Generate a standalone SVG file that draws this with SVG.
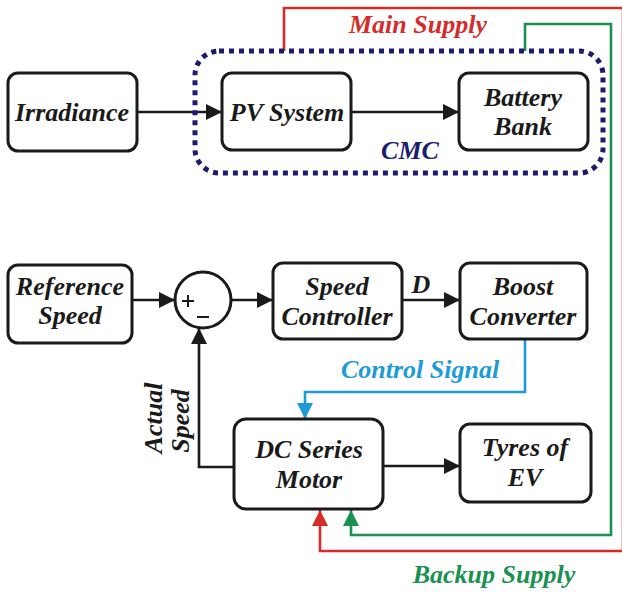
<svg xmlns="http://www.w3.org/2000/svg" width="622" height="592" viewBox="0 0 622 592">
<defs>
<marker id="ak" markerUnits="userSpaceOnUse" markerWidth="18" markerHeight="16" refX="16" refY="8" orient="auto"><path d="M0,0 L16,8 L0,16 z" fill="#1a1a1a"/></marker>
<marker id="ar" markerUnits="userSpaceOnUse" markerWidth="18" markerHeight="16" refX="16" refY="8" orient="auto"><path d="M0,0 L16,8 L0,16 z" fill="#d42b2b"/></marker>
<marker id="ag" markerUnits="userSpaceOnUse" markerWidth="18" markerHeight="16" refX="16" refY="8" orient="auto"><path d="M0,0 L16,8 L0,16 z" fill="#1a9150"/></marker>
<marker id="ab" markerUnits="userSpaceOnUse" markerWidth="18" markerHeight="16" refX="16" refY="8" orient="auto"><path d="M0,0 L16,8 L0,16 z" fill="#1d9ad8"/></marker>
</defs>

<g id="connectors" fill="none" stroke-width="2.6">
<path stroke="#d42b2b" d="M284,51 V8 H623 V551 H320 V510" marker-end="url(#ar)"/>
<path stroke="#1a9150" d="M525,51 V24 H611 V535 H351 V510" marker-end="url(#ag)"/>
<path stroke="#1d9ad8" d="M525,339 V392 H305 V419" marker-end="url(#ab)"/>
<path stroke="#1a1a1a" d="M137,112 H222" marker-end="url(#ak)"/>
<path stroke="#1a1a1a" d="M351,112 H459" marker-end="url(#ak)"/>
<path stroke="#1a1a1a" d="M132,300 H175" marker-end="url(#ak)"/>
<path stroke="#1a1a1a" d="M231,300 H273" marker-end="url(#ak)"/>
<path stroke="#1a1a1a" d="M402,300 H460" marker-end="url(#ak)"/>
<path stroke="#1a1a1a" d="M383,466 H460" marker-end="url(#ak)"/>
<path stroke="#1a1a1a" d="M234,467 H199 V328" marker-end="url(#ak)"/>
</g>

<g id="cmc">
<rect x="195" y="51" width="408" height="122" rx="24" fill="none" stroke="#1c1c6e" stroke-width="5" stroke-dasharray="5 5"/>
<text x="410" y="159" text-anchor="middle" fill="#1c1c6e" font-family="Liberation Serif" font-weight="bold" font-style="italic" font-size="26" style="font-family:'Liberation Serif'">CMC</text>
</g>

<g id="irradiance">
<rect x="8" y="73" width="129" height="78" rx="10" fill="#fff" stroke="#1a1a1a" stroke-width="3"/>
<text x="72" y="121" text-anchor="middle" fill="#1a1a1a" font-family="Liberation Serif" font-weight="bold" font-style="italic" font-size="26" style="font-family:'Liberation Serif'">Irradiance</text>
</g>
<g id="pv-system">
<rect x="222" y="73" width="129" height="77" rx="10" fill="#fff" stroke="#1a1a1a" stroke-width="3"/>
<text x="287" y="121" text-anchor="middle" fill="#1a1a1a" font-family="Liberation Serif" font-weight="bold" font-style="italic" font-size="26" style="font-family:'Liberation Serif'">PV System</text>
</g>
<g id="battery-bank">
<rect x="459" y="73" width="129" height="77" rx="10" fill="#fff" stroke="#1a1a1a" stroke-width="3"/>
<text x="523" y="106" text-anchor="middle" fill="#1a1a1a" font-family="Liberation Serif" font-weight="bold" font-style="italic" font-size="26" style="font-family:'Liberation Serif'">Battery</text>
<text x="523" y="135" text-anchor="middle" fill="#1a1a1a" font-family="Liberation Serif" font-weight="bold" font-style="italic" font-size="26" style="font-family:'Liberation Serif'">Bank</text>
</g>

<g id="reference-speed">
<rect x="8" y="265" width="124" height="78" rx="10" fill="#fff" stroke="#1a1a1a" stroke-width="3"/>
<text x="70" y="295" text-anchor="middle" fill="#1a1a1a" font-family="Liberation Serif" font-weight="bold" font-style="italic" font-size="26" style="font-family:'Liberation Serif'">Reference</text>
<text x="70" y="324" text-anchor="middle" fill="#1a1a1a" font-family="Liberation Serif" font-weight="bold" font-style="italic" font-size="26" style="font-family:'Liberation Serif'">Speed</text>
</g>
<g id="summing-junction">
<circle cx="203" cy="300" r="28" fill="#fff" stroke="#1a1a1a" stroke-width="3"/>
<path d="M182,301 H194 M188,295 V307 M197,317 H209" stroke="#1a1a1a" stroke-width="2" fill="none"/>
</g>
<g id="speed-controller">
<rect x="273" y="263" width="129" height="76" rx="10" fill="#fff" stroke="#1a1a1a" stroke-width="3"/>
<text x="337" y="295" text-anchor="middle" fill="#1a1a1a" font-family="Liberation Serif" font-weight="bold" font-style="italic" font-size="26" style="font-family:'Liberation Serif'">Speed</text>
<text x="337" y="325" text-anchor="middle" fill="#1a1a1a" font-family="Liberation Serif" font-weight="bold" font-style="italic" font-size="26" style="font-family:'Liberation Serif'">Controller</text>
</g>
<g id="boost-converter">
<rect x="460" y="263" width="127" height="76" rx="10" fill="#fff" stroke="#1a1a1a" stroke-width="3"/>
<text x="523" y="295" text-anchor="middle" fill="#1a1a1a" font-family="Liberation Serif" font-weight="bold" font-style="italic" font-size="26" style="font-family:'Liberation Serif'">Boost</text>
<text x="523" y="325" text-anchor="middle" fill="#1a1a1a" font-family="Liberation Serif" font-weight="bold" font-style="italic" font-size="26" style="font-family:'Liberation Serif'">Converter</text>
</g>
<g id="dc-series-motor">
<rect x="234" y="419" width="149" height="90" rx="12" fill="#fff" stroke="#1a1a1a" stroke-width="3"/>
<text x="309" y="458" text-anchor="middle" fill="#1a1a1a" font-family="Liberation Serif" font-weight="bold" font-style="italic" font-size="26" style="font-family:'Liberation Serif'">DC Series</text>
<text x="309" y="488" text-anchor="middle" fill="#1a1a1a" font-family="Liberation Serif" font-weight="bold" font-style="italic" font-size="26" style="font-family:'Liberation Serif'">Motor</text>
</g>
<g id="tyres-of-ev">
<rect x="460" y="424" width="131" height="78" rx="10" fill="#fff" stroke="#1a1a1a" stroke-width="3"/>
<text x="525" y="456" text-anchor="middle" fill="#1a1a1a" font-family="Liberation Serif" font-weight="bold" font-style="italic" font-size="26" style="font-family:'Liberation Serif'">Tyres of</text>
<text x="525" y="486" text-anchor="middle" fill="#1a1a1a" font-family="Liberation Serif" font-weight="bold" font-style="italic" font-size="26" style="font-family:'Liberation Serif'">EV</text>
</g>

<g id="labels">
<text x="418" y="33" text-anchor="middle" fill="#d42b2b" font-family="Liberation Serif" font-weight="bold" font-style="italic" font-size="26" style="font-family:'Liberation Serif'">Main Supply</text>
<text x="421" y="293" text-anchor="middle" fill="#1a1a1a" font-family="Liberation Serif" font-weight="bold" font-style="italic" font-size="26" style="font-family:'Liberation Serif'">D</text>
<text x="420" y="378" text-anchor="middle" fill="#1d9ad8" font-family="Liberation Serif" font-weight="bold" font-style="italic" font-size="26" style="font-family:'Liberation Serif'">Control Signal</text>
<text transform="translate(162,418) rotate(-90)" text-anchor="middle" fill="#1a1a1a" font-family="Liberation Serif" font-weight="bold" font-style="italic" font-size="26" style="font-family:'Liberation Serif'">Actual</text>
<text transform="translate(189,421) rotate(-90)" text-anchor="middle" fill="#1a1a1a" font-family="Liberation Serif" font-weight="bold" font-style="italic" font-size="26" style="font-family:'Liberation Serif'">Speed</text>
<text x="494" y="583" text-anchor="middle" fill="#1a9150" font-family="Liberation Serif" font-weight="bold" font-style="italic" font-size="26" style="font-family:'Liberation Serif'">Backup Supply</text>
</g>
</svg>
